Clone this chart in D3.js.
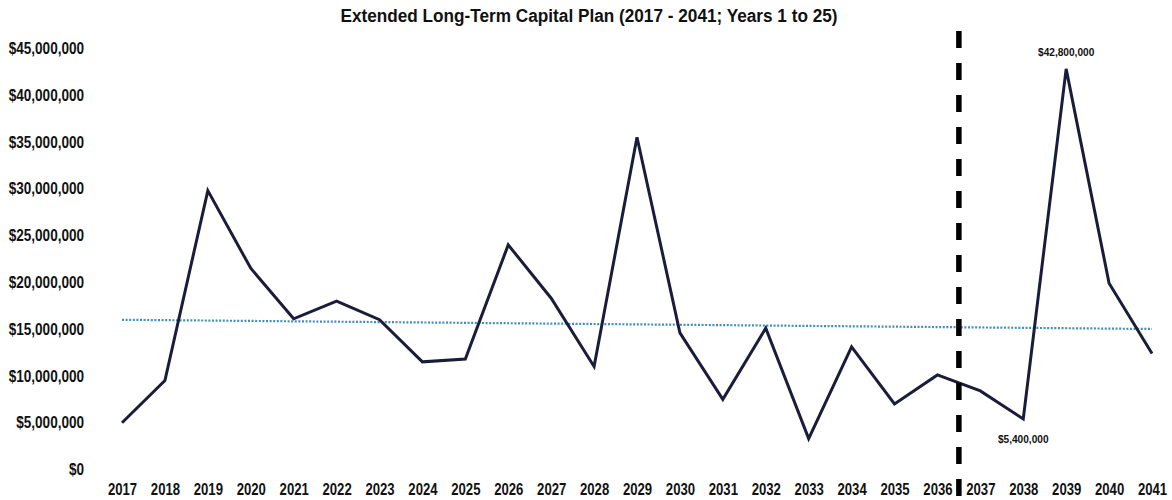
<!DOCTYPE html>
<html>
<head>
<meta charset="utf-8">
<script src="https://cdn.jsdelivr.net/npm/d3@7"></script>
<style>
  body { margin: 0; background: #fff; }
  svg text { font-family: "Liberation Sans", Arial, sans-serif; font-weight: bold; fill: #111; }
</style>
</head>
<body>
<svg id="chart" width="1172" height="500"></svg>
<script>
'use strict';

// Datos del gráfico
var years = ['2017','2018','2019','2020','2021','2022','2023','2024','2025','2026','2027','2028','2029',
             '2030','2031','2032','2033','2034','2035','2036','2037','2038','2039','2040','2041'];
var capital = [5.0, 9.5, 29.8, 21.5, 16.1, 18.0, 16.0, 11.5, 11.8, 24.0, 18.3, 11.0, 35.5,
               14.6, 7.5, 15.1, 3.3, 13.1, 7.0, 10.1, 8.4, 5.4, 42.8, 19.9, 12.4].map(function(v) { return v * 1e6; });
var yTicks = [0, 5e6, 10e6, 15e6, 20e6, 25e6, 30e6, 35e6, 40e6, 45e6];
var splitAfter = '2036';
var annotations = [
  { year: '2039', value: 42.8e6, text: '$42,800,000', dy: -17 },
  { year: '2038', value: 5.4e6,  text: '$5,400,000',  dy: 20 }
];
var title = 'Extended Long-Term Capital Plan (2017 - 2041; Years 1 to 25)';

// Comprime el texto en horizontal (imitando una fuente "narrow")
function estrechar(sel, factor) {
  sel.each(function() {
    var w = this.getComputedTextLength();
    d3.select(this).attr('textLength', w * factor).attr('lengthAdjust', 'spacingAndGlyphs');
  });
}

(function() {
  var svg = d3.select('#chart');

  var x = d3.scalePoint().domain(years).range([122, 1152]);
  var y = d3.scaleLinear().domain([0, 45e6]).range([469.5, 48.3]);

  // Título
  svg.append('text')
    .attr('x', 589).attr('y', 21.5)
    .attr('text-anchor', 'middle')
    .style('font-size', '18px')
    .text(title)
    .call(estrechar, 0.955);

  // Eje Y (sin línea ni marcas)
  var yAxis = svg.append('g')
    .attr('transform', 'translate(84,0)')
    .call(d3.axisLeft(y).tickValues(yTicks).tickSize(0).tickPadding(0).tickFormat(d3.format('$,')));
  yAxis.select('.domain').remove();
  yAxis.selectAll('text').style('font-size', '16.5px').call(estrechar, 0.82);

  // Eje X
  var xAxis = svg.append('g')
    .attr('transform', 'translate(0,480)')
    .call(d3.axisBottom(x).tickSize(0).tickPadding(4));
  xAxis.select('.domain').remove();
  xAxis.selectAll('text').style('font-size', '16px').call(estrechar, 0.82);

  // Línea de tendencia (regresión lineal)
  var n = capital.length;
  var mx = d3.mean(d3.range(n)), my = d3.mean(capital);
  var sxy = d3.sum(d3.range(n), function(i) { return (i - mx) * (capital[i] - my); });
  var sxx = d3.sum(d3.range(n), function(i) { return (i - mx) * (i - mx); });
  var slope = sxy / sxx, icpt = my - slope * mx;
  svg.append('line')
    .attr('x1', x(years[0])).attr('y1', y(icpt))
    .attr('x2', x(years[n - 1])).attr('y2', y(icpt + slope * (n - 1)))
    .attr('stroke', '#3f8fb8').attr('stroke-width', 2.2)
    .attr('stroke-dasharray', '2,1.6');

  // Serie principal
  var line = d3.line()
    .x(function(d, i) { return x(years[i]); })
    .y(function(d) { return y(d); });
  svg.append('path')
    .datum(capital)
    .attr('d', line)
    .attr('fill', 'none')
    .attr('stroke', '#1a1d3a')
    .attr('stroke-width', 3)
    .attr('stroke-linejoin', 'miter');

  // Separador vertical
  var xs = (x(splitAfter) + x(years[years.indexOf(splitAfter) + 1])) / 2;
  svg.append('line')
    .attr('x1', xs).attr('x2', xs)
    .attr('y1', 31).attr('y2', 500)
    .attr('stroke', '#000').attr('stroke-width', 5.5)
    .attr('stroke-dasharray', '17,15');

  // Anotaciones
  svg.selectAll('.anot')
    .data(annotations)
    .enter().append('text')
    .attr('class', 'anot')
    .attr('x', function(d) { return x(d.year); })
    .attr('y', function(d) { return y(d.value) + d.dy; })
    .attr('dy', '0.35em')
    .attr('text-anchor', 'middle')
    .style('font-size', '11.5px')
    .text(function(d) { return d.text; })
    .call(estrechar, 0.88);
})();
</script>
</body>
</html>
